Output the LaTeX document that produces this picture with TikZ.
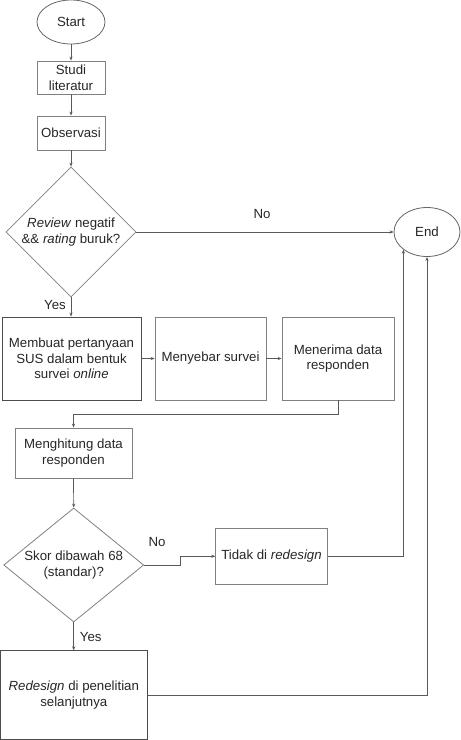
\documentclass[tikz,border=0pt]{standalone}
\usepackage{fontspec}
\setmainfont{Liberation Sans}
\usetikzlibrary{shapes.geometric,arrows.meta}
\begin{document}
\begin{tikzpicture}[x=1pt,y=-1pt,
  every node/.style={font=\fontsize{13.25}{15.7}\selectfont, inner sep=0pt, align=center, text=black!85},
  box/.style={draw=black!50, line width=0.8pt, rectangle},
  darkbox/.style={draw=black!70, line width=0.9pt, rectangle},
  oval/.style={draw=black!60, line width=0.8pt, ellipse},
  dia/.style={draw=black!50, line width=0.8pt, diamond},
  conn/.style={draw=black!65, line width=0.7pt, -{Stealth[length=4pt,width=3.2pt]}},
  lab/.style={font=\fontsize{13.25}{15.7}\selectfont}
]
\useasboundingbox (0,0) rectangle (461,740);
\node[oval, minimum width=68, minimum height=44] (start) at (71,22) {Start};
\node[box, minimum width=68, minimum height=33] (studi) at (71,77.5) {Studi\\literatur};
\node[box, minimum width=68, minimum height=34] (obs) at (71,133) {Observasi};
\node[dia, minimum width=130, minimum height=130] (d1) at (71,232) {};
\node (d1t) at (71,232) {\textit{Review} negatif\\\&\& \textit{rating} buruk?};
\node[oval, minimum width=66, minimum height=49] (end) at (427,232) {End};
\node[darkbox, minimum width=139, minimum height=83] (b1) at (71.5,358.5) {Membuat pertanyaan\\SUS dalam bentuk\\survei \textit{online}};
\node[box, minimum width=111, minimum height=83] (b2) at (210.5,358.5) {Menyebar survei};
\node[box, minimum width=112, minimum height=83] (b3) at (338,358.5) {Menerima data\\responden};
\node[box, minimum width=117, minimum height=50] (b4) at (73.5,453) {Menghitung data\\responden};
\node[dia, minimum width=140, minimum height=114] (d2) at (73.7,565) {};
\node (d2t) at (73.7,565) {Skor dibawah 68\\(standar)?};
\node[box, minimum width=111.6, minimum height=56] (b5) at (271.5,556.3) {Tidak di \textit{redesign}};
\node[darkbox, minimum width=147, minimum height=89] (b6) at (73.8,695.3) {\textit{Redesign} di penelitian\\selanjutnya};
\node[lab] (no1) at (262,214) {No};
\node[lab] (yes1) at (55,305) {Yes};
\node[lab] (no2) at (157,542) {No};
\node[lab] (yes2) at (90.7,636.7) {Yes};
\draw[conn] (start) -- (studi);
\draw[conn] (studi) -- (obs);
\draw[conn] (obs) -- (d1);
\draw[conn] (d1.east) -- (end.west);
\draw[conn] (d1.south) -- (b1.north -| d1.south);
\draw[conn] (b1) -- (b2);
\draw[conn] (b2) -- (b3);
\draw[conn] (b3.south) -- ++(0,14) -| (b4.north);
\draw[conn] (b4.south) -- (d2.north);
\draw[conn] (d2.east) -- ++(36,0) |- (b5.west);
\draw[conn] (d2.south) -- (b6.north -| d2.south);
\draw[conn] (b5.east) -| (end.south west);
\draw[conn] (b6.east) -| (end.south);
\end{tikzpicture}
\end{document}
